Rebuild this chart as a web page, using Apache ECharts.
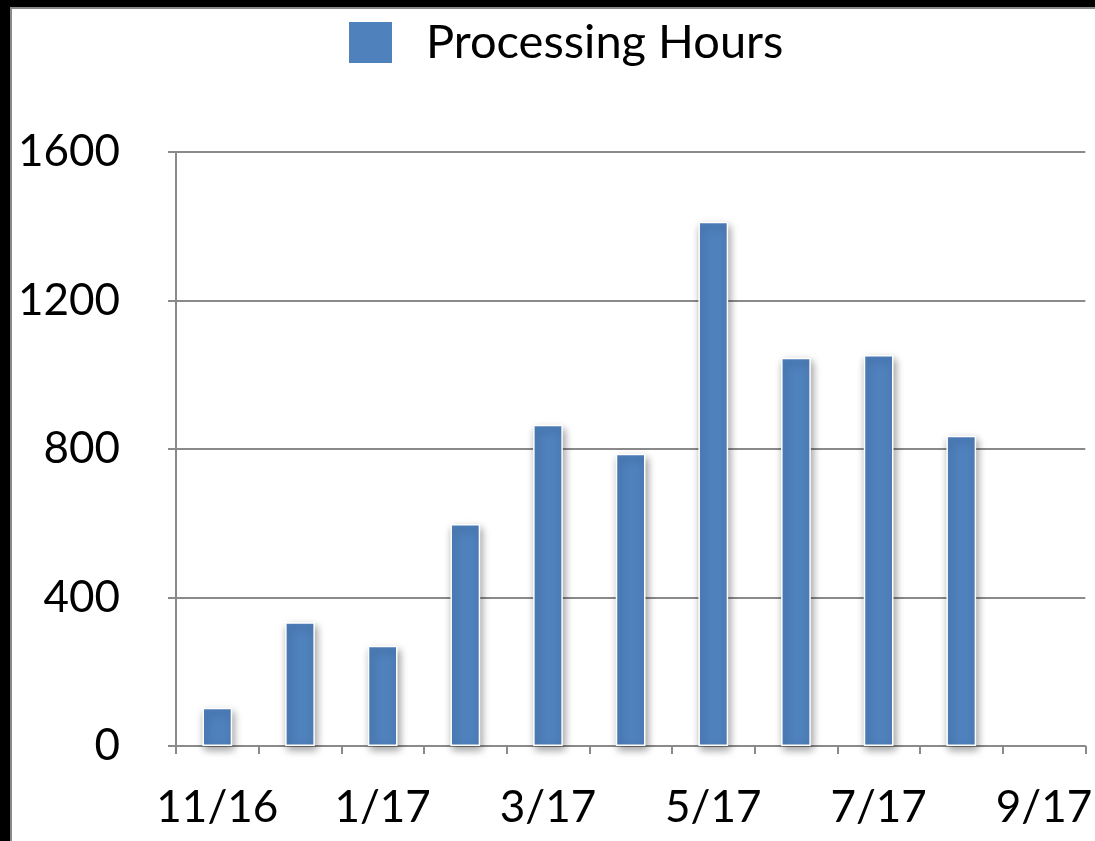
<!DOCTYPE html>
<html>
<head>
<meta charset="utf-8">
<script src="https://cdn.jsdelivr.net/npm/echarts@6/dist/echarts.min.js"></script>
<style>
  html, body { margin: 0; padding: 0; background: #000; }
  #frame {
    position: absolute; left: 10px; top: 7px; width: 1085px; height: 834px;
    background: #fff; border-left: 2px solid #8a8a8a; border-top: 2px solid #8a8a8a;
    box-sizing: border-box;
  }
  #chart { position: absolute; left: 0; top: 0; width: 1095px; height: 841px; }
</style>
</head>
<body>
<div id="frame"></div>
<div id="chart"></div>
<script>
// monthly categories
var months = ['11/16', '12/16', '1/17', '2/17', '3/17', '4/17', '5/17', '6/17', '7/17', '8/17', '9/17']
// processing hours per month
var hours = [103, 333, 270, 598, 865, 787, 1412, 1046, 1053, 836, null]
var yTicks = { min: 0, max: 1600, interval: 400 }

var chart = echarts.init(document.getElementById('chart'), null, { renderer: 'canvas' })
var axisGray = '#8a8a8a'
var font = 'Lato'

chart.setOption({
  animation: false,
  backgroundColor: 'transparent',
  legend: {
    top: 19,
    left: 347,
    padding: 0,
    icon: 'rect',
    itemWidth: 45,
    itemHeight: 43,
    textStyle: {
      fontFamily: font,
      fontSize: 47,
      color: '#000',
      padding: [0, 0, 0, 28]
    },
    data: ['Processing Hours']
  },
  grid: {
    left: 176,
    right: 6,
    top: 152,
    bottom: 95,
    containLabel: false
  },
  xAxis: {
    type: 'category',
    data: months,
    axisLine: { lineStyle: { color: axisGray, width: 2 } },
    axisTick: { show: true, interval: 0, length: 8, lineStyle: { color: axisGray, width: 2 } },
    axisLabel: {
      interval: 1,
      margin: 40,
      fontFamily: font,
      fontSize: 44,
      color: '#000'
    }
  },
  yAxis: {
    type: 'value',
    min: yTicks.min,
    max: yTicks.max,
    interval: yTicks.interval,
    axisLine: { show: true, lineStyle: { color: axisGray, width: 2 } },
    axisTick: { show: true, length: 8, lineStyle: { color: axisGray, width: 2 } },
    splitLine: { lineStyle: { color: axisGray, width: 2 } },
    axisLabel: {
      margin: 56,
      fontFamily: font,
      fontSize: 44,
      color: '#000',
      formatter: function (v) { return String(v) }
    }
  },
  series: [{
    name: 'Processing Hours',
    type: 'bar',
    data: hours,
    barWidth: '36%',
    itemStyle: {
      color: '#4f81bd',
      borderColor: '#fff',
      borderWidth: 1.5,
      shadowBlur: 8,
      shadowColor: 'rgba(0,0,0,0.4)',
      shadowOffsetX: 2,
      shadowOffsetY: 4
    }
  }]
})
</script>
</body>
</html>
